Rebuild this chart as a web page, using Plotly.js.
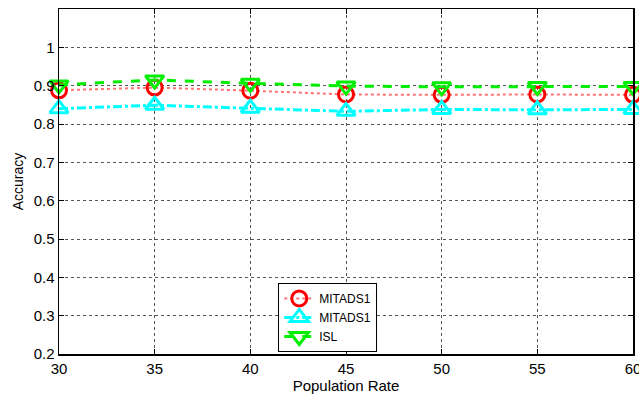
<!DOCTYPE html>
<html>
<head>
<meta charset="utf-8">
<script src="https://cdn.plot.ly/plotly-3.0.1.min.js"></script>
<style>html,body{margin:0;padding:0;background:#fff;}#chart{width:639px;height:398px;}</style>
</head>
<body>
<div id="chart"></div>
<script>
var populationRate = [30, 35, 40, 45, 50, 55, 60];
var mitads1A = [0.888, 0.895, 0.887, 0.877, 0.876, 0.877, 0.876];
var mitads1B = [0.840, 0.849, 0.841, 0.833, 0.838, 0.837, 0.838];
var isl = [0.902, 0.915, 0.906, 0.899, 0.897, 0.898, 0.898];
var seriesNames = ['MITADS1', 'MITADS1', 'ISL'];
var xTicks = [30, 35, 40, 45, 50, 55, 60];
var yTicks = [0.2, 0.3, 0.4, 0.5, 0.6, 0.7, 0.8, 0.9, 1];

var FONT = 'Liberation Sans, Arial, sans-serif';

var traces = [
  {x: populationRate, y: mitads1A, name: seriesNames[0], mode: 'lines+markers', cliponaxis: false,
   line: {color: 'rgba(255,80,80,0.8)', width: 2, dash: 'dot'},
   marker: {symbol: 'circle-open', size: 15, color: '#ff0000', line: {width: 3, color: '#ff0000'}}},
  {x: populationRate, y: mitads1B, name: seriesNames[1], mode: 'lines+markers', cliponaxis: false,
   line: {color: '#00ffff', width: 3, dash: 'dashdot'},
   marker: {symbol: 'triangle-up-open', size: 16, color: '#00ffff', line: {width: 3, color: '#00ffff'}}},
  {x: populationRate, y: isl, name: seriesNames[2], mode: 'lines+markers', cliponaxis: false,
   line: {color: '#00ee00', width: 3, dash: 'dash'},
   marker: {symbol: 'triangle-down-open', size: 16, color: '#00ee00', line: {width: 3, color: '#00ee00'}}}
];

var axisCommon = {
  showline: true, linecolor: '#000', linewidth: 1.5, mirror: 'ticks',
  ticks: 'inside', ticklen: 5, tickcolor: '#000',
  showgrid: true, gridcolor: '#555', griddash: 'dot', gridwidth: 1,
  zeroline: false, ticklabeloverflow: 'allow',
  tickfont: {family: FONT, size: 15, color: '#000'}
};

var layout = {
  width: 639, height: 398,
  margin: {l: 59, r: 6, t: 9, b: 44},
  paper_bgcolor: '#fff', plot_bgcolor: '#fff',
  showlegend: true,
  legend: {x: 0.382, y: 0.206, xanchor: 'left', yanchor: 'top',
    bgcolor: '#fff', bordercolor: '#000', borderwidth: 1,
    font: {family: FONT, size: 12, color: '#000'},
    tracegroupgap: 0, itemwidth: 30},
  xaxis: Object.assign({}, axisCommon, {
    range: [30, 60], tickvals: xTicks, ticktext: xTicks.map(String),
    title: {text: 'Population Rate', standoff: 4, font: {family: FONT, size: 15, color: '#000'}}
  }),
  yaxis: Object.assign({}, axisCommon, {
    range: [0.2, 1.1], tickvals: yTicks, ticktext: yTicks.map(String),
    title: {text: 'Accuracy', standoff: 6, font: {family: FONT, size: 14, color: '#000'}}
  })
};

Plotly.newPlot('chart', traces, layout, {displayModeBar: false, staticPlot: true});
</script>
</body>
</html>
